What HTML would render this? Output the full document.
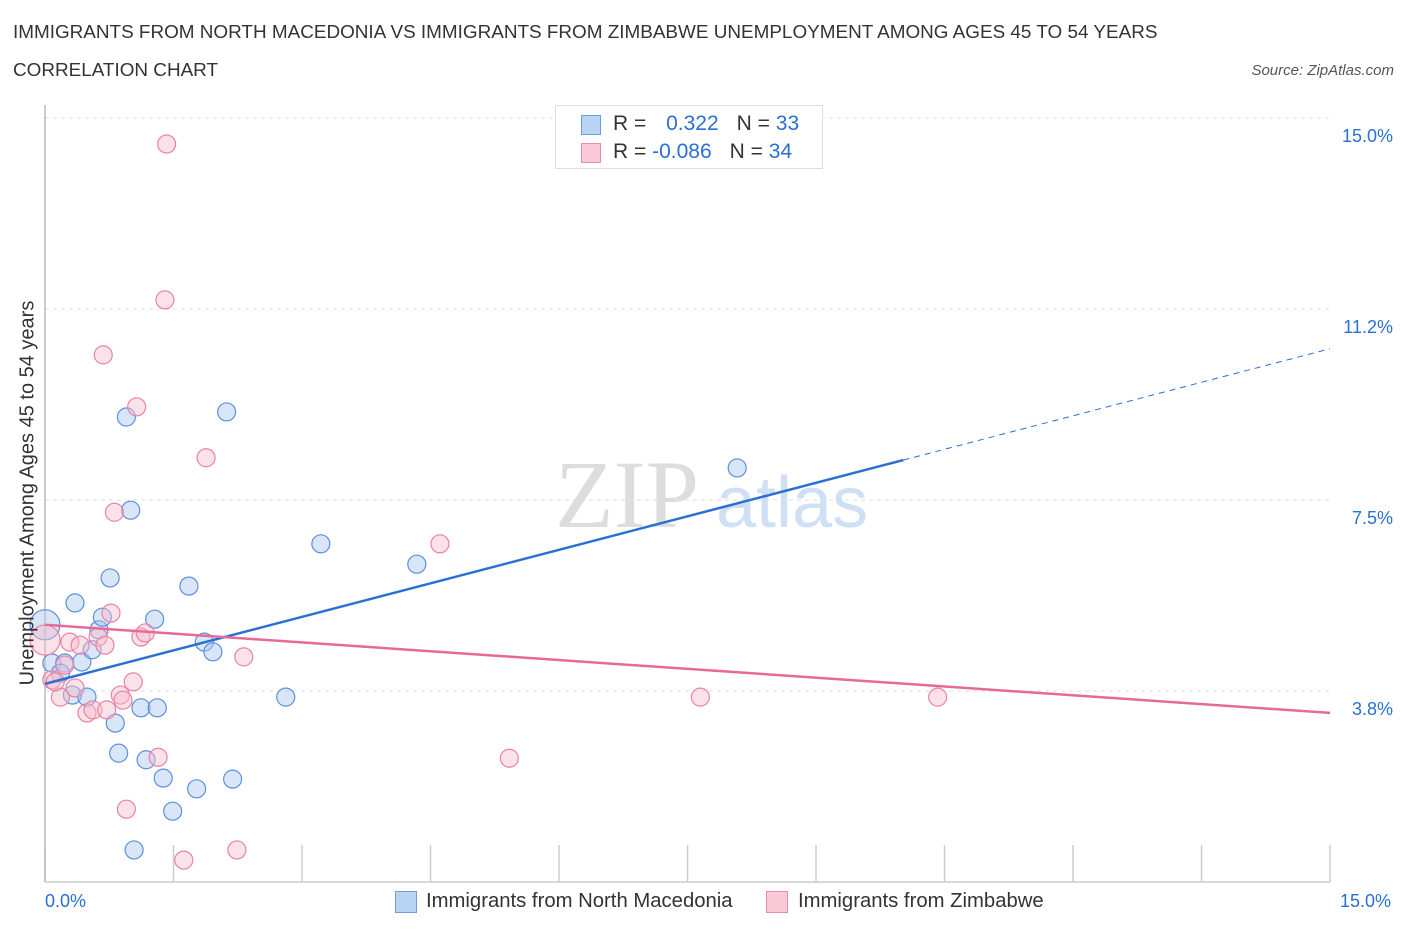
<!DOCTYPE html>
<html><head><meta charset="utf-8"><style>
body{margin:0;background:#fff;font-family:"Liberation Sans",sans-serif;}
.t{position:absolute;white-space:nowrap}
</style></head><body>
<div style="position:relative;width:1406px;height:930px;overflow:hidden">
<div class="t" style="left:13px;top:22px;font-size:18.9px;color:#333">IMMIGRANTS FROM NORTH MACEDONIA VS IMMIGRANTS FROM ZIMBABWE UNEMPLOYMENT AMONG AGES 45 TO 54 YEARS</div>
<div class="t" style="left:13px;top:60px;font-size:18.9px;color:#333">CORRELATION CHART</div>
<div class="t" style="right:12px;top:62px;font-size:15px;color:#555;font-style:italic">Source: ZipAtlas.com</div>
<svg id="svg" width="1406" height="930" style="position:absolute;left:0;top:0"></svg>
<div style="position:absolute;left:555px;top:105px;width:266px;height:62px;border:1px solid #ddd;background:#fff;font-size:21px">
<div style="position:absolute;left:25px;top:9px;width:18px;height:18px;background:#b9d3f5;border:1px solid #6a9ee0"></div>
<div class="t" style="left:57px;top:6px;color:#333">R = <span style="color:#2a6fd4;margin-left:14px">0.322</span><span style="margin-left:18px;color:#333">N = </span><span style="color:#2a6fd4">33</span></div>
<div style="position:absolute;left:25px;top:37px;width:18px;height:18px;background:#f9c9d7;border:1px solid #e88aa8"></div>
<div class="t" style="left:57px;top:34px;color:#333">R = <span style="color:#2a6fd4">-0.086</span><span style="margin-left:18px;color:#333">N = </span><span style="color:#2a6fd4">34</span></div>
</div>
<div class="t" style="left:28px;top:493px;font-size:20px;color:#333;transform:translate(-50%,-50%) rotate(-90deg)">Unemployment Among Ages 45 to 54 years</div>
<div class="t" style="left:45px;top:891px;font-size:18px;color:#2a6fd4">0.0%</div>
<div class="t" style="left:1340px;top:891px;font-size:18px;color:#2a6fd4">15.0%</div>
<div>
<div style="position:absolute;left:395px;top:891px;width:20px;height:20px;background:#b9d3f5;border:1px solid #6a9ee0"></div>
<div class="t" style="left:426px;top:890px;font-size:20.3px;color:#333">Immigrants from North Macedonia</div>
<div style="position:absolute;left:766px;top:891px;width:20px;height:20px;background:#f9c9d7;border:1px solid #e88aa8"></div>
<div class="t" style="left:798px;top:890px;font-size:20.3px;color:#333">Immigrants from Zimbabwe</div>
</div>
</div>
<script>
const yTicks=[3.75,7.5,11.25,15];
const yTickLabels=["3.8%","7.5%","11.2%","15.0%"];
const xTicks=[0,1.5,3,4.5,6,7.5,9,10.5,12,13.5,15];
const blueX=[0,0.08,0.23,0.43,0.18,0.32,0.49,0.55,0.63,0.67,0.35,0.76,1.00,0.95,2.12,0.82,1.12,1.31,0.86,1.18,1.38,1.49,1.77,2.19,1.04,1.28,1.68,1.86,1.96,2.81,3.22,4.34,8.08];
const blueY=[5.05,4.30,4.30,4.32,4.10,3.67,3.63,4.56,4.95,5.20,5.48,5.97,7.30,9.13,9.23,3.12,3.42,3.42,2.53,2.40,2.04,1.39,1.83,2.02,0.63,5.16,5.81,4.71,4.52,3.63,6.64,6.24,8.13];
const pinkX=[0,0.18,0.08,0.29,0.41,0.62,0.35,0.49,0.56,0.72,0.77,0.88,0.91,1.03,1.12,1.17,1.32,0.95,1.62,2.24,2.32,0.81,0.68,1.07,1.40,1.42,1.88,4.61,5.42,7.65,10.42,0.12,0.70,0.23];
const pinkY=[4.75,3.63,3.97,4.71,4.65,4.81,3.81,3.32,3.38,3.38,5.28,3.67,3.57,3.93,4.81,4.89,2.45,1.43,0.43,0.63,4.42,7.26,10.35,9.33,11.43,14.49,8.33,6.64,2.43,3.63,3.63,3.93,4.65,4.26];
const blueTrend=[3.89,10.47], blueSolidEnd=10.02;
const pinkTrend=[5.05,3.32];
const X=v=>45+v*85.67, Y=v=>882-v*50.93;
const s=document.getElementById('svg'),NS='http://www.w3.org/2000/svg';
function mk(t,a){const e=document.createElementNS(NS,t);for(const k in a)e.setAttribute(k,a[k]);s.appendChild(e);return e;}
yTicks.forEach((v,i)=>{const g=mk('line',{x1:45,x2:1330,y1:Y(v),y2:Y(v),stroke:'#ddd','stroke-dasharray':'4,4'});

const t=mk('text',{x:1393,y:Y(v)+24,'text-anchor':'end','font-size':18,fill:'#2a6fd4','font-family':'Liberation Sans'});t.textContent=yTickLabels[i];
});
xTicks.forEach(v=>{const l=mk('line',{x1:X(v),x2:X(v),y1:845,y2:882,stroke:'#ccc','stroke-width':1.5});
});
const ax=mk('line',{x1:45,x2:45,y1:105,y2:882,stroke:'#bbb','stroke-width':1.5});
const bx=mk('line',{x1:45,x2:1330,y1:882,y2:882,stroke:'#ccc','stroke-width':1.5});
const w1=mk('text',{x:555,y:527,'font-size':96,fill:'#ddd','font-family':'Liberation Serif'});w1.textContent='ZIP';
const w2=mk('text',{x:716,y:527,'font-size':72,fill:'#cfe0f5','font-family':'Liberation Sans'});w2.textContent='atlas';
function pts(xs,ys,fill,stroke,name){xs.forEach((x,i)=>{const c=mk('circle',{cx:X(x),cy:Y(ys[i]),r:i==0?15:9,fill:fill,'fill-opacity':0.45,stroke:stroke,'stroke-width':1.2});
});}
pts(blueX,blueY,'#a9c8f0','#5b90dc','point-north-macedonia');
pts(pinkX,pinkY,'#f7bccd','#e883a4','point-zimbabwe');
const bs=blueTrend[0]+(blueTrend[1]-blueTrend[0])*blueSolidEnd/15;
const l1=mk('line',{x1:X(0),y1:Y(blueTrend[0]),x2:X(blueSolidEnd),y2:Y(bs),stroke:'#2a6fd4','stroke-width':2.5});
const l2=mk('line',{x1:X(blueSolidEnd),y1:Y(bs),x2:X(15),y2:Y(blueTrend[1]),stroke:'#2a6fd4','stroke-width':1,'stroke-dasharray':'6,5'});
const l3=mk('line',{x1:X(0),y1:Y(pinkTrend[0]),x2:X(15),y2:Y(pinkTrend[1]),stroke:'#e56a96','stroke-width':2.5});
</script>
</body></html>
